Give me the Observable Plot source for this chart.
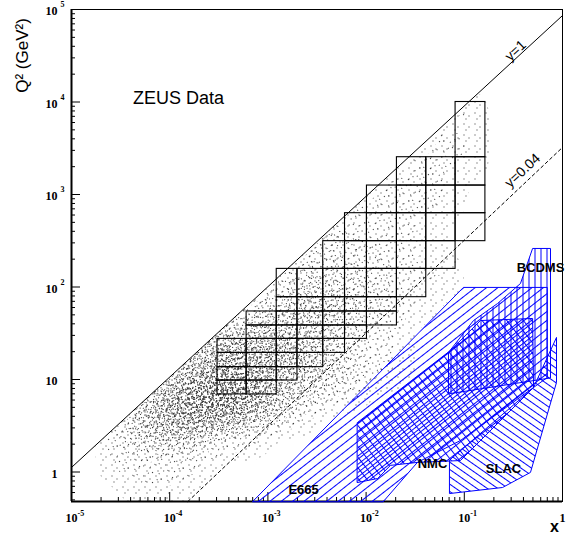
<!DOCTYPE html>
<html><head><meta charset="utf-8">
<script src="https://cdn.jsdelivr.net/npm/d3@7"></script>
<script src="https://cdn.jsdelivr.net/npm/@observablehq/plot@0.6"></script>
<style>body{margin:0;background:#fff}</style>
</head><body><div id="chart"></div>
<script>
// ---------- data ----------
const xDomain = [1e-5, 1];
const yDomain = [0.48, 1e5];

// ZEUS bin grid
const zeusXEdges  = [3.07e-4, 6.07e-4, 1.23e-3, 2.0e-3, 3.66e-3, 6.1e-3, 0.0102, 0.0206, 0.041, 0.0815, 0.164];
const zeusQ2Edges = [6.9, 9.75, 13.6, 19.4, 27.5, 38.4, 54.4, 77.6, 157, 313, 628, 1250, 2530, 10000];
const zeusRowLeft  = [0, 0, 0, 0, 1, 1, 2, 2, 4, 5, 6, 7, 9];
const zeusRowRight = [2, 3, 4, 5, 6, 7, 7, 8, 9, 10, 10, 10, 10];

// kinematic lines
const lineY1X = [1e-5, 1], lineY1Q2 = [1.12, 8.6e4];
const lineY004X = [1.53e-4, 1], lineY004Q2 = [0.48, 3230];

// ZEUS event density (relative, hex digits), rows top->bottom
const densityLogX  = [-4.875,-4.625,-4.375,-4.125,-3.875,-3.625,-3.375,-3.125,-2.875,-2.625,-2.375,-2.125,-1.875,-1.625,-1.375,-1.125,-0.875,-0.625,-0.375,-0.125];
const densityLogQ2 = [4, 3.75, 3.5, 3.25, 3, 2.75, 2.5, 2.25, 2, 1.75, 1.5, 1.25, 1, 0.75, 0.5, 0.25, 0, -0.25];
const densityRows = [
  "00000000000000011000",
  "00000000000000111000",
  "00000000000001111000",
  "00000000000011111000",
  "00000000000111110000",
  "00000000001111110000",
  "00000000012211100000",
  "00000000022221110000",
  "00000000233221110000",
  "00000002344321100000",
  "00000345543211000000",
  "00003577653211000000",
  "000259B8543211000000",
  "0036AED8421100000000",
  "01367532110000000000",
  "01222111000000000000",
  "01111100000000000000",
  "00111000000000000000"
];

// fixed-target regions
const e665X  = [7.0e-4, 0.098, 0.70, 0.70, 0.507, 0.0914, 0.0333, 0.0150];
const e665Q2 = [0.48, 99, 99, 10.5, 8.2, 2.19, 1.27, 0.48];
const nmcX  = [8.17e-3, 0.0722, 0.146, 0.496, 0.507, 0.0914, 0.0333, 0.0177, 0.0131, 8.17e-3];
const nmcQ2 = [3.43, 20.6, 43.4, 45.7, 8.2, 1.33, 1.27, 1.18, 0.85, 0.77];
const bcdmsX  = [0.069, 0.069, 0.124, 0.218, 0.373, 0.496, 0.755, 0.755];
const bcdmsQ2 = [7.06, 19.6, 43.4, 66.3, 109, 261, 261, 10.5];
const slacX  = [0.0706, 0.0706, 0.245, 0.472, 0.869, 0.869, 0.507];
const slacQ2 = [1.33, 0.585, 0.68, 0.99, 9.3, 28.5, 8.2];

// labels
const regionLabels = ["BCDMS", "NMC", "SLAC", "E665"];
const regionLabelX = [0.597, 0.0474, 0.251, 2.31e-3];
const regionLabelQ2 = [162, 1.24, 1.09, 0.647];
const lineLabels = ["y=1", "y=0.04"];
const lineLabelX = [0.332, 0.392];
const lineLabelQ2 = [3.6e4, 1817];
const titleText = "ZEUS Data", titleX = 1.23e-4, titleQ2 = 1.09e4;

// ticks
const xMajor = [1e-5, 1e-4, 1e-3, 1e-2, 1e-1, 1];
const xLabelBase = ["10", "10", "10", "10", "10", "1"];
const xLabelExp  = ["-5", "-4", "-3", "-2", "-1", ""];
const yMajor = [1, 10, 100, 1000, 1e4, 1e5];
const yLabelBase = ["1", "10", "10", "10", "10", "10"];
const yLabelExp  = ["", "", "2", "3", "4", "5"];

// ---------- build ----------
const cells = [];
zeusRowLeft.forEach((l, r) => {
  for (let i = l; i < zeusRowRight[r]; i++)
    cells.push({x1: zeusXEdges[i], x2: zeusXEdges[i + 1], y1: zeusQ2Edges[r], y2: zeusQ2Edges[r + 1]});
});
const densPts = [];
densityRows.forEach((row, j) => {
  [...row].forEach((ch, i) => {
    const w = parseInt(ch, 16);
    if (w > 0) densPts.push({x: 10 ** densityLogX[i], y: 10 ** densityLogQ2[j], w});
  });
});
const poly = (xs, ys) => xs.map((x, i) => ({x, y: ys[i]}));
const minorTicks = (lo, hi) => {
  const t = [];
  for (let e = lo; e < hi; e++) for (let k = 2; k <= 9; k++) t.push(k * 10 ** e);
  return t;
};
const xMinor = minorTicks(-5, 0);
const yMinor = minorTicks(-1, 5).filter(v => v >= yDomain[0] && v <= yDomain[1]);

const sans = "'Liberation Sans', Arial, Helvetica, sans-serif";
const serif = "'Liberation Serif', 'Times New Roman', serif";
const blue = "#0000ff";

const chart = Plot.plot({
  width: 570, height: 538,
  marginLeft: 71, marginRight: 8, marginTop: 9, marginBottom: 37,
  x: {type: "log", domain: xDomain},
  y: {type: "log", domain: yDomain},
  style: {fontFamily: sans, background: "#fff", color: "#000"},
  marks: [
    Plot.density(densPts, {x: "x", y: "y", weight: "w", bandwidth: 12, thresholds: 24,
      fill: "#333", fillOpacity: 1, stroke: "none"}),
    Plot.frame({stroke: "#000", strokeWidth: 1}),
    Plot.ruleY([yDomain[0]], {stroke: "#000", strokeWidth: 2}),
    Plot.ruleX([xDomain[0]], {stroke: "#000", strokeWidth: 2}),
    Plot.axisX(xMajor, {tickSize: -9, tickFormat: () => "", label: null}),
    Plot.axisX(xMinor, {tickSize: -4, tickFormat: () => "", label: null}),
    Plot.axisY(yMajor, {tickSize: -9, tickFormat: () => "", label: null}),
    Plot.axisY(yMinor, {tickSize: -4, tickFormat: () => "", label: null}),
    // tick labels
    Plot.text(xMajor, {x: d => d, frameAnchor: "bottom", lineAnchor: "middle", dy: 17, text: (d, i) => xLabelBase[i],
      fontFamily: serif, fontWeight: "bold", fontSize: 12}),
    Plot.text(xMajor, {x: d => d, frameAnchor: "bottom", lineAnchor: "middle", dy: 12, dx: 6, textAnchor: "start",
      text: (d, i) => xLabelExp[i], fontFamily: serif, fontWeight: "bold", fontSize: 8}),
    Plot.text(yMajor, {y: d => d, frameAnchor: "left", lineAnchor: "middle", dx: -14, dy: 2, textAnchor: "end",
      text: (d, i) => yLabelBase[i], fontFamily: serif, fontWeight: "bold", fontSize: 12}),
    Plot.text(yMajor, {y: d => d, frameAnchor: "left", lineAnchor: "middle", dx: -11, dy: -5, textAnchor: "start",
      text: (d, i) => yLabelExp[i], fontFamily: serif, fontWeight: "bold", fontSize: 8}),
    // axis titles
    Plot.text(["Q² (GeV²)"], {text: d => d, frameAnchor: "top-left", textAnchor: "middle", lineAnchor: "middle",
      dx: -49, dy: 46, rotate: -90, fontSize: 17, fontFamily: sans}),
    Plot.text(["x"], {text: d => d, frameAnchor: "bottom-right", textAnchor: "middle", lineAnchor: "middle",
      dx: -8, dy: 25, fontSize: 16, fontWeight: "bold", fontFamily: sans}),
    // fixed-target regions
    Plot.line(poly(e665X, e665Q2), {x: "x", y: "y", curve: "linear-closed", stroke: blue, strokeWidth: 1, fill: "url(#hE665)"}),
    Plot.line(poly(nmcX, nmcQ2), {x: "x", y: "y", curve: "linear-closed", stroke: blue, strokeWidth: 1, fill: "url(#hNMC)"}),
    Plot.line(poly(bcdmsX, bcdmsQ2), {x: "x", y: "y", curve: "linear-closed", stroke: blue, strokeWidth: 1, fill: "url(#hBCDMS)"}),
    Plot.line(poly(slacX, slacQ2), {x: "x", y: "y", curve: "linear-closed", stroke: blue, strokeWidth: 1, fill: "url(#hSLAC)"}),
    // ZEUS bins
    Plot.rect(cells, {x1: "x1", x2: "x2", y1: "y1", y2: "y2", stroke: "#000", strokeWidth: 1.1, fill: "none"}),
    // kinematic lines
    Plot.line(poly(lineY1X, lineY1Q2), {x: "x", y: "y", stroke: "#000", strokeWidth: 1}),
    Plot.line(poly(lineY004X, lineY004Q2), {x: "x", y: "y", stroke: "#000", strokeWidth: 1, strokeDasharray: "3,3"}),
    Plot.text(lineLabels, {x: (d, i) => lineLabelX[i], y: (d, i) => lineLabelQ2[i], text: d => d, rotate: -43,
      fontSize: 14, fontFamily: sans}),
    Plot.text(regionLabels, {x: (d, i) => regionLabelX[i], y: (d, i) => regionLabelQ2[i], text: d => d,
      fontSize: 13, fontWeight: "bold", fontFamily: sans}),
    Plot.text([titleText], {x: () => titleX, y: () => titleQ2, text: d => d, fontSize: 18, fontFamily: sans})
  ]
});

// hatch patterns + speckle textures for the event cloud
const NS = "http://www.w3.org/2000/svg";
const defs = document.createElementNS(NS, "defs");
let speck = "";
const NSPECK = 12;
for (let k = 0; k < NSPECK; k++) {
  speck += `<pattern id="speck${k}" patternUnits="userSpaceOnUse" width="11" height="11"
    patternTransform="rotate(${k * 37}) translate(${(k * 3) % 11},${(k * 5) % 11})">
    <rect x="1" y="2" width="1" height="1" fill="#333"/>
    <rect x="6" y="5" width="1" height="1" fill="#333"/>
    <rect x="3" y="8" width="1" height="1" fill="#333"/></pattern>`;
}
defs.innerHTML = `
<pattern id="hE665" patternUnits="userSpaceOnUse" width="20" height="7" patternTransform="rotate(-38)">
  <line x1="0" y1="0.5" x2="20" y2="0.5" stroke="${blue}" stroke-width="1"/></pattern>
<pattern id="hNMC" patternUnits="userSpaceOnUse" width="6.5" height="6.5" patternTransform="rotate(-38)">
  <line x1="0" y1="0.5" x2="6.5" y2="0.5" stroke="${blue}" stroke-width="1"/>
  <line x1="0.5" y1="0" x2="0.5" y2="6.5" stroke="${blue}" stroke-width="1"/></pattern>
<pattern id="hBCDMS" patternUnits="userSpaceOnUse" width="6" height="20">
  <line x1="0.5" y1="0" x2="0.5" y2="20" stroke="${blue}" stroke-width="1"/></pattern>
<pattern id="hSLAC" patternUnits="userSpaceOnUse" width="20" height="6" patternTransform="rotate(35)">
  <line x1="0" y1="0.5" x2="20" y2="0.5" stroke="${blue}" stroke-width="1"/></pattern>
${speck}
<clipPath id="densClip"></clipPath>`;
chart.insertBefore(defs, chart.firstChild);

// clip the event cloud to the kinematic limit y=1
const X = chart.scale("x"), Y = chart.scale("y");
const clipPts = [
  [X.apply(lineY1X[0]), Y.apply(lineY1Q2[0])],
  [X.apply(lineY1X[1]), Y.apply(lineY1Q2[1])],
  [X.apply(xDomain[1]), Y.apply(yDomain[0])],
  [X.apply(xDomain[0]), Y.apply(yDomain[0])]
];
const cp = document.createElementNS(NS, "polygon");
cp.setAttribute("points", clipPts.map(p => p.join(",")).join(" "));
defs.querySelector("#densClip").appendChild(cp);
const dg = chart.querySelector('g[aria-label="density"]');
if (dg) {
  dg.setAttribute("clip-path", "url(#densClip)");
  dg.querySelectorAll("path").forEach((p, i) => p.setAttribute("fill", `url(#speck${i % NSPECK})`));
}

document.getElementById("chart").appendChild(chart);
</script>
</body></html>
